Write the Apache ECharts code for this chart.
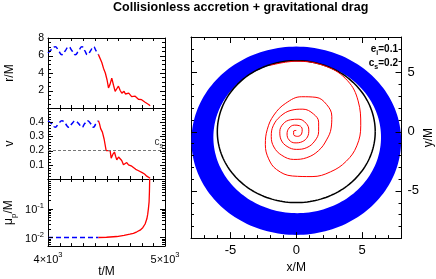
<!DOCTYPE html>
<html><head><meta charset="utf-8">
<script src="https://cdn.jsdelivr.net/npm/echarts@6/dist/echarts.min.js"></script>
<style>html,body{margin:0;padding:0;background:#fff}#c{width:436px;height:279px}</style>
</head><body><div id="c"></div>
<script>
const FONT = '"Liberation Sans", Arial, sans-serif';

// ---- data ----
const tBlue  = [4000, 4031, 4062, 4090, 4119, 4148, 4176, 4205, 4233, 4262, 4290, 4314, 4338, 4364, 4389, 4410, 4431];
const rBlue  = [6.3, 6.7, 7.0, 6.55, 6.1, 6.55, 7.0, 6.55, 6.1, 6.55, 7.0, 6.55, 6.1, 6.55, 7.0, 6.55, 6.1];
const vBlue  = [0.41, 0.39, 0.365, 0.39, 0.41, 0.39, 0.365, 0.39, 0.41, 0.39, 0.365, 0.39, 0.41, 0.39, 0.365, 0.39, 0.41];
const muBlue = [[4000, 0.01], [4431, 0.01]];

const rRed = [[4431,6.1],[4446,5.9],[4460,5.2],[4474,4.55],[4490,4.0],[4505,3.2],[4517,2.3],[4530,2.7],[4545,3.4],[4560,2.6],
  [4574,1.9],[4588,2.2],[4602,2.5],[4617,2.0],[4631,1.7],[4650,1.9],[4662,1.6],[4673,1.4],[4690,1.7],[4700,1.6],[4715,1.3],
  [4730,1.2],[4745,1.35],[4759,1.25],[4773,1.0],[4787,0.8],[4800,0.95],[4815,0.85],[4830,0.65],[4844,0.5],[4860,0.4],[4873,0.25]];
const vRed = [[4431,0.41],[4440,0.39],[4450,0.355],[4465,0.33],[4480,0.28],[4497,0.2],[4531,0.2],[4540,0.147],[4555,0.175],
  [4568,0.19],[4578,0.16],[4588,0.135],[4603,0.155],[4616,0.16],[4630,0.13],[4645,0.1],[4660,0.11],[4673,0.116],[4688,0.1],
  [4702,0.088],[4716,0.09],[4730,0.076],[4750,0.068],[4770,0.06],[4787,0.053],[4805,0.045],[4825,0.035],[4844,0.02],[4860,0.012],[4873,0.005]];
const muRed = [[4431,0.01],[4500,0.0102],[4588,0.0108],[4650,0.0118],[4700,0.013],[4730,0.014],[4760,0.0158],[4787,0.018],
  [4810,0.022],[4830,0.0296],[4845,0.045],[4852,0.064],[4858,0.1],[4864,0.175],[4867,0.4],[4869,1.1]];
const csValue = 0.2;

const spiralXY = [[-2.0,5.6],[0,5.95],[2.3,5.5],[3.9,4.3],[4.7,2.6],[4.9,0.5],[4.6,-1.2],[3.8,-2.5],[2.6,-3.4],[1.2,-3.8],
  [-0.3,-3.75],[-1.5,-3.2],[-2.1,-2.3],[-2.35,-1.1],[-2.2,0.2],[-1.7,1.4],[-0.8,2.4],[0.4,2.95],[1.5,2.9],[2.3,2.3],[2.7,1.3],
  [2.65,0.3],[2.3,-0.7],[1.7,-1.6],[0.8,-2.2],[-0.2,-2.35],[-1.1,-2.0],[-1.7,-1.3],[-1.9,-0.4],[-1.75,0.5],[-1.2,1.3],
  [-0.4,1.8],[0.5,1.9],[1.3,1.5],[1.7,0.8],[1.7,0],[1.4,-0.8],[0.8,-1.35],[0.0,-1.5],[-0.7,-1.25],[-1.15,-0.7],[-1.25,0],
  [-1.0,0.65],[-0.45,1.0],[0.2,1.05],[0.75,0.7],[0.95,0.15],[0.85,-0.45],[0.45,-0.85],[-0.1,-0.95],[-0.55,-0.7],[-0.7,-0.2],
  [-0.55,0.3],[-0.15,0.55],[0.25,0.5],[0.45,0.2],[0.4,-0.2],[0.1,-0.4],[-0.2,-0.25],[-0.2,0.05],[0,0.1]];
const iscoRadius = 6;
const ringOuter = [0, -0.77, 7.97, 7.96];   // cx, cy, rx, ry
const ringInner = [0.07, -0.47, 6.37, 6.42];

// tick values
const tLabels = [4000, 5000];
const tMinor  = [4100, 4200, 4300, 4400, 4500, 4600, 4700, 4800, 4900];
const rMajor  = [2, 4, 6];
const rMinor  = [0.5, 1, 1.5, 2.5, 3, 3.5, 4.5, 5, 5.5, 6.5, 7, 7.5];
const vMajor  = [0.1, 0.2, 0.3, 0.4];
const vMinor  = [0.02, 0.04, 0.06, 0.08, 0.12, 0.14, 0.16, 0.18, 0.22, 0.24, 0.26, 0.28, 0.32, 0.34, 0.36, 0.38, 0.42, 0.44, 0.46, 0.48];
const muMajor = [0.01, 0.1];
const muMinor = [0.006, 0.007, 0.008, 0.009, 0.02, 0.03, 0.04, 0.05, 0.06, 0.07, 0.08, 0.09, 0.2, 0.3, 0.4, 0.5, 0.6, 0.7, 0.8, 0.9];
const xyMajor = [-5, 0, 5];
const xMinor  = [-7, -6, -4, -3, -2, -1, 1, 2, 3, 4, 6, 7];
const yMinor  = [-8, -7, -6, -4, -3, -2, -1, 1, 2, 3, 4, 6, 7];

// ---- helpers ----
function ellipsePts(e, n) {
  const pts = [];
  for (let i = 0; i <= n; i++) { const a = 2 * Math.PI * i / n; pts.push([e[0] + e[2] * Math.cos(a), e[1] + e[3] * Math.sin(a)]); }
  return pts;
}
const rich = {
  b: {fontFamily: FONT, fontSize: 11, color: '#000', verticalAlign: 'bottom', lineHeight: 14},
  s: {fontFamily: FONT, fontSize: 7.5, color: '#000', verticalAlign: 'top', lineHeight: 14}
};
const line = {show: true, onZero: false, lineStyle: {color: '#000', width: 1}};
const noTick = {show: false};
function tAxis(grid, pos, labels) {
  return {type: 'value', gridIndex: grid, position: pos, min: 4000, max: 5000,
    axisLine: line, splitLine: {show: false}, axisTick: noTick, minorTick: {show: false},
    axisLabel: labels ? {show: true, margin: 5, customValues: tLabels,
      formatter: v => (v === 4000 ? '{b|4×10}{s|3}' : '{b|5×10}{s|3}'), rich: rich} : {show: false},
    name: labels ? 't/M' : '', nameLocation: 'middle', nameGap: 16,
    nameTextStyle: {fontFamily: FONT, fontSize: 12, color: '#000'}};
}
function linY(grid, pos, min, max, labelVals, fmt, name, gap) {
  return {type: 'value', gridIndex: grid, position: pos, min: min, max: max,
    axisLine: line, splitLine: {show: false}, axisTick: noTick, minorTick: {show: false},
    axisLabel: labelVals ? {show: true, margin: 4, customValues: labelVals, formatter: fmt, fontFamily: FONT, fontSize: 10.5, color: '#000'} : {show: false},
    name: name || '', nameLocation: 'middle', nameGap: gap || 0, nameRotate: 90,
    nameTextStyle: {fontFamily: FONT, fontSize: 12, color: '#000'}};
}
function logY(grid, pos, labels) {
  return {type: 'log', gridIndex: grid, position: pos, min: 0.005, max: 1.1,
    axisLine: line, splitLine: {show: false}, axisTick: noTick, minorTick: {show: false},
    axisLabel: labels ? {show: true, margin: 4, customValues: muMajor,
      formatter: v => (Math.abs(v - 0.1) < 1e-6 ? '{b|10}{s|-1}' : '{b|10}{s|-2}'), rich: rich} : {show: false},
    name: labels ? '{n|μ}{sub|p}{n|/M}' : '', nameLocation: 'middle', nameGap: 30, nameRotate: 90,
    nameTextStyle: {fontFamily: FONT, fontSize: 12, color: '#000',
      rich: {n: {fontFamily: FONT, fontSize: 12, color: '#000', verticalAlign: 'top', lineHeight: 15},
             sub: {fontFamily: FONT, fontSize: 8, color: '#000', verticalAlign: 'bottom', lineHeight: 15}}}};
}
function xyAxis(kind, grid, pos, labels, name, gap) {
  const isX = kind === 'x';
  return {type: 'value', gridIndex: grid, position: pos, min: isX ? -8 : -9, max: 8,
    axisLine: line, splitLine: {show: false}, axisTick: noTick, minorTick: {show: false},
    axisLabel: labels ? {show: true, margin: 6, customValues: xyMajor, fontFamily: FONT, fontSize: 13, color: '#000'} : {show: false},
    name: name || '', nameLocation: 'middle', nameGap: gap || 0, nameRotate: isX ? 0 : 90,
    nameTextStyle: {fontFamily: FONT, fontSize: 12, color: '#000'}};
}
// inward tick marks on all four sides of a panel, placed through the panel's own axes
function tickSeries(xi, yi, xr, yr, xMaj, xMin, yMaj, yMin, lenMaj, lenMin) {
  return {type: 'custom', xAxisIndex: xi, yAxisIndex: yi, data: [[xr[0], yr[0]]], z: 10, silent: true,
    renderItem: function (params, api) {
      if (params.dataIndex !== 0) return null;
      const kids = [];
      const seg = (x1, y1, x2, y2) => kids.push({type: 'line', shape: {x1: x1, y1: y1, x2: x2, y2: y2},
        style: {stroke: '#000', lineWidth: 1}});
      const px = v => Math.round(v) + 0.5;
      const bot = api.coord([xr[0], yr[0]])[1], top = api.coord([xr[0], yr[1]])[1];
      const lft = api.coord([xr[0], yr[0]])[0], rgt = api.coord([xr[1], yr[0]])[0];
      [[xMaj, lenMaj], [xMin, lenMin]].forEach(([vals, L]) => vals.forEach(v => {
        const x = px(api.coord([v, yr[0]])[0]);
        seg(x, bot, x, bot - L); seg(x, top, x, top + L);
      }));
      [[yMaj, lenMaj], [yMin, lenMin]].forEach(([vals, L]) => vals.forEach(v => {
        const y = px(api.coord([xr[0], v])[1]);
        seg(lft, y, lft + L, y); seg(rgt, y, rgt - L, y);
      }));
      return {type: 'group', children: kids};
    }};
}

const subRich = {
  b: {fontFamily: FONT, fontSize: 10, fontWeight: 'bold', fill: '#000', verticalAlign: 'top', lineHeight: 13},
  s: {fontFamily: FONT, fontSize: 7, fontWeight: 'bold', fill: '#000', verticalAlign: 'bottom', lineHeight: 13}
};
const blueDash = {color: '#0000ff', width: 1.5, type: [5, 3]};
const redLine = {color: '#ff0000', width: 1.3};

const option = {
  animation: false,
  backgroundColor: '#fff',
  grid: [
    {left: 48, top: 38, width: 117, height: 70},
    {left: 48, top: 108, width: 117, height: 71},
    {left: 48, top: 179, width: 117, height: 71},
    {left: 191, top: 37, width: 213, height: 214}
  ],
  xAxis: [
    tAxis(0, 'bottom', false), tAxis(0, 'top', false),
    tAxis(1, 'bottom', false), tAxis(1, 'top', false),
    tAxis(2, 'bottom', true), tAxis(2, 'top', false),
    xyAxis('x', 3, 'bottom', true, 'x/M', 16), xyAxis('x', 3, 'top', false)
  ],
  yAxis: [
    linY(0, 'left', 0, 8, [2, 4, 6, 8], v => String(v), 'r/M', 32), linY(0, 'right', 0, 8, null),
    linY(1, 'left', 0, 0.5, vMajor, v => v.toFixed(1), 'v', 32), linY(1, 'right', 0, 0.5, null),
    logY(2, 'left', true), logY(2, 'right', false),
    xyAxis('y', 3, 'left', false), xyAxis('y', 3, 'right', true, 'y/M', 21)
  ],
  graphic: [
    {type: 'text', left: 113, top: 1, style: {text: 'Collisionless accretion + gravitational drag', fontFamily: FONT, fontSize: 12.5, fontWeight: 'bold', fill: '#000'}},
    {type: 'text', right: 38, top: 44, style: {text: '{b|e}{s|i}{b|=0.1}', rich: subRich}},
    {type: 'text', right: 38, top: 58, style: {text: '{b|c}{s|s}{b|=0.2}', rich: subRich}}
  ],
  series: [
    {type: 'line', xAxisIndex: 0, yAxisIndex: 0, data: tBlue.map((t, i) => [t, rBlue[i]]), smooth: true, showSymbol: false, lineStyle: blueDash},
    {type: 'line', xAxisIndex: 0, yAxisIndex: 0, data: rRed, showSymbol: false, lineStyle: redLine},
    {type: 'line', xAxisIndex: 2, yAxisIndex: 2, data: tBlue.map((t, i) => [t, vBlue[i]]), smooth: true, showSymbol: false, lineStyle: blueDash},
    {type: 'line', xAxisIndex: 2, yAxisIndex: 2, data: vRed, showSymbol: false, lineStyle: redLine, z: 3,
      markLine: {silent: true, symbol: 'none', lineStyle: {color: '#777', width: 1, type: [3, 2]},
        label: {show: true, position: 'insideEndTop', formatter: '{b|c}{s|s}', distance: [2, 1], rich: {
          b: {fontFamily: FONT, fontSize: 10, color: '#333', verticalAlign: 'top', lineHeight: 12},
          s: {fontFamily: FONT, fontSize: 7, color: '#333', verticalAlign: 'bottom', lineHeight: 12}}},
        data: [{yAxis: csValue}]}},
    {type: 'line', xAxisIndex: 4, yAxisIndex: 4, data: muBlue, showSymbol: false, lineStyle: blueDash},
    {type: 'line', xAxisIndex: 4, yAxisIndex: 4, data: muRed, showSymbol: false, lineStyle: redLine},
    {type: 'custom', xAxisIndex: 6, yAxisIndex: 6, data: [[0, 0]], clip: true, z: 1,
      renderItem: function (params, api) {
        if (params.dataIndex !== 0) return null;
        const outer = ellipsePts(ringOuter, 180).map(p => api.coord(p));
        const inner = ellipsePts(ringInner, 180).reverse().map(p => api.coord(p));
        return {type: 'polygon', shape: {points: outer.concat(inner)}, style: {fill: '#0000ff', stroke: null}};
      }},
    {type: 'line', xAxisIndex: 6, yAxisIndex: 6, data: ellipsePts([0, 0, iscoRadius, iscoRadius], 180), showSymbol: false, z: 3,
      lineStyle: {color: '#000', width: 1.5}},
    {type: 'line', xAxisIndex: 6, yAxisIndex: 6, data: spiralXY, smooth: 0.4, showSymbol: false, z: 4,
      lineStyle: {color: '#ff0000', width: 1}},
    tickSeries(0, 0, [4000, 5000], [0, 8], [], tMinor, rMajor, rMinor, 5, 3),
    tickSeries(2, 2, [4000, 5000], [0, 0.5], [], tMinor, vMajor, vMinor, 5, 3),
    tickSeries(4, 4, [4000, 5000], [0.005, 1.1], [], tMinor, muMajor, muMinor, 5, 3),
    tickSeries(6, 6, [-8, 8], [-9, 8], xyMajor, xMinor, xyMajor, yMinor, 6, 3)
  ]
};
const chart = echarts.init(document.getElementById('c'), null, {renderer: 'canvas'});
chart.setOption(option);
</script></body></html>
